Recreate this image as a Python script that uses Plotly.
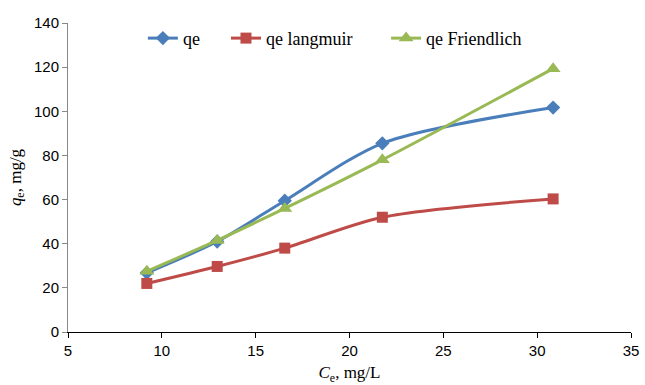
import plotly.graph_objects as go

ce = [9.2, 12.95, 16.55, 21.75, 30.85]
qe = [26.8, 41.0, 59.5, 85.5, 101.7]
qe_langmuir = [22.0, 29.7, 38.0, 52.0, 60.3]
qe_freundlich = [27.5, 41.5, 56.0, 78.0, 119.3]

fig = go.Figure()
series = [
    ("qe", qe, "#4A7EBB", "diamond", 11, "legend", 0.133),
    ("qe langmuir", qe_langmuir, "#BE4B48", "square", 11, "legend2", 0.2806),
    ("qe Friendlich", qe_freundlich, "#98B954", "triangle-up", 13, "legend3", 0.565),
]
legend_font = dict(family="Liberation Serif", size=18, color="black")
legends = {}
for name, ys, col, sym, sz, lg, lx in series:
    fig.add_trace(go.Scatter(
        x=ce, y=ys, name=name, mode="lines+markers", legend=lg,
        line=dict(color=col, width=3, shape="spline", smoothing=0.8),
        marker=dict(symbol=sym, size=sz, color=col),
    ))
    legends[lg] = dict(orientation="h", x=lx, y=1.01, xanchor="left", yanchor="top",
                       font=legend_font, bgcolor="rgba(0,0,0,0)")

fig.update_layout(
    width=645, height=385,
    margin=dict(l=68, r=14, t=23, b=53, autoexpand=False),
    paper_bgcolor="white", plot_bgcolor="white",
    showlegend=True,
    xaxis=dict(range=[5, 35], dtick=5, showgrid=False, zeroline=False,
               showline=True, linecolor="black", linewidth=1, automargin=False,
               ticks="outside", ticklen=5, tickcolor="black",
               tickfont=dict(family="Liberation Sans", size=15, color="black"),
               title=dict(text="<i>C</i><sub>e</sub>, mg/L", standoff=14,
                          font=dict(family="Liberation Serif", size=17, color="black"))),
    yaxis=dict(range=[0, 140], dtick=20, showgrid=False, zeroline=False,
               showline=True, linecolor="#888888", linewidth=1, automargin=False,
               ticks="outside", ticklen=5, tickcolor="#888888",
               tickfont=dict(family="Liberation Sans", size=15, color="black"),
               title=dict(text="<i>q</i><sub>e</sub>, mg/g", standoff=8,
                          font=dict(family="Liberation Serif", size=17, color="black"))),
    **legends,
)

fig.write_html("out.html", config={"displayModeBar": False},
               post_script="document.body.style.margin='0';")
